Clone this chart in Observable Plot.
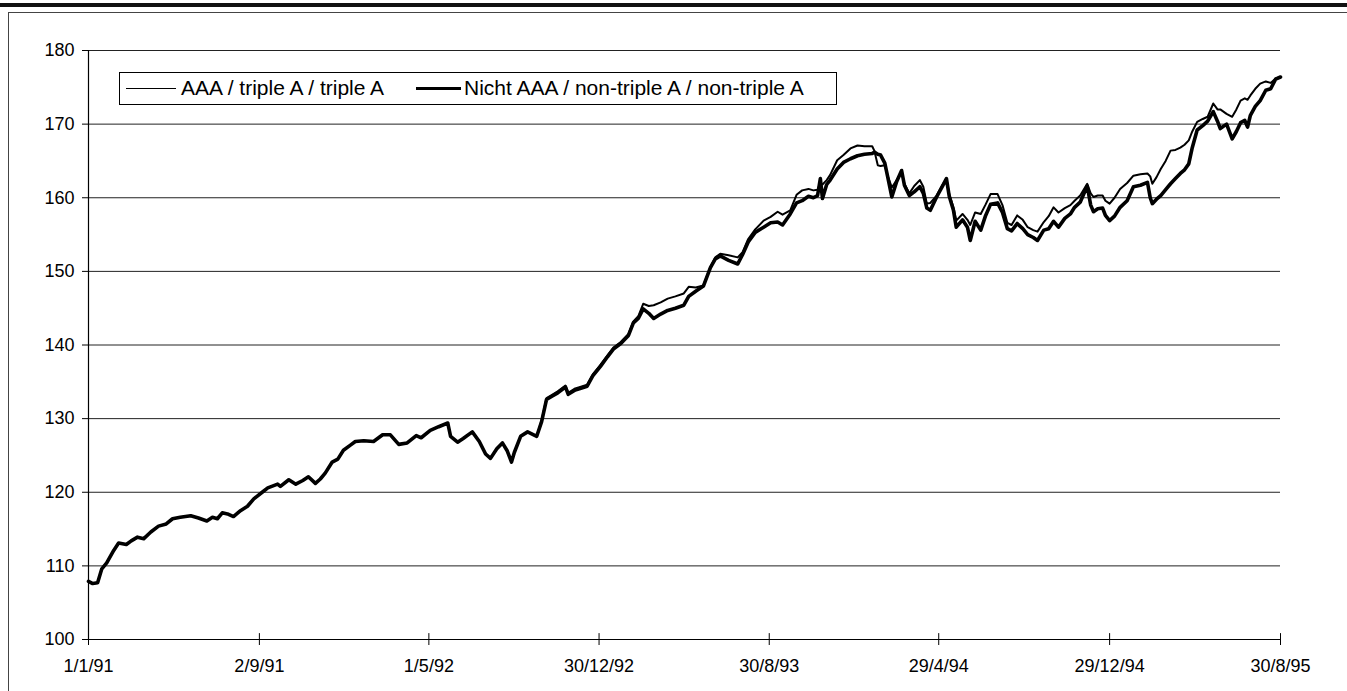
<!DOCTYPE html>
<html><head><meta charset="utf-8">
<script src="https://cdn.jsdelivr.net/npm/d3@7"></script>
<script src="https://cdn.jsdelivr.net/npm/@observablehq/plot@0.6"></script>
<style>
body{margin:0;background:#fff;}
#wrap{position:relative;width:1347px;height:691px;overflow:hidden;font-family:"Liberation Sans",Arial,sans-serif;}
#topbar{position:absolute;left:0;top:3px;width:1347px;height:4px;background:#111;}
#frame{position:absolute;left:8px;top:12px;width:1345px;height:700px;border-left:1px solid #444;border-top:1px solid #444;}
#legend{position:absolute;left:119px;top:72px;width:716px;height:31px;border:1.5px solid #000;background:#fff;font-size:21px;color:#000;white-space:nowrap;}
#legend span{position:absolute;}
.sw{top:15px;height:0;}
.lt{top:3px;line-height:24px;}
</style></head>
<body><div id="wrap"><div id="topbar"></div><div id="frame"></div><div id="chart"></div>
<div id="legend">
<span class="sw" style="left:6px;width:50px;border-top:1.5px solid #000"></span><span class="lt" id="l1" style="left:61px"></span>
<span class="sw" style="left:296px;width:45px;border-top:3px solid #000;top:14px"></span><span class="lt" id="l2" style="left:344px"></span>
</div>
</div>
<script>
const seriesNames = ["AAA / triple A / triple A", "Nicht AAA / non-triple A / non-triple A"];
const yTicks = [100,110,120,130,140,150,160,170,180];
const xTickDates = ["1991-01-01","1991-09-02","1992-05-01","1992-12-30","1993-08-30","1994-04-29","1994-12-29","1995-08-30"];
const xTickLabels = ["1/1/91","2/9/91","1/5/92","30/12/92","30/8/93","29/4/94","29/12/94","30/8/95"];

const dates = [
"1991-01-01","1991-01-07","1991-01-14","1991-01-20","1991-01-27","1991-02-06","1991-02-13","1991-02-24","1991-03-03","1991-03-12",
"1991-03-21","1991-03-31","1991-04-11","1991-04-22","1991-05-01","1991-05-12","1991-05-27","1991-06-07","1991-06-19","1991-06-27",
"1991-07-04","1991-07-11","1991-07-20","1991-07-27","1991-08-06","1991-08-16","1991-08-25","1991-09-06","1991-09-14","1991-09-28",
"1991-10-02","1991-10-14","1991-10-24","1991-11-03","1991-11-11","1991-11-21","1991-11-28","1991-12-05","1991-12-15","1991-12-23",
"1991-12-31","1992-01-10","1992-01-17","1992-01-29","1992-02-12","1992-02-25","1992-03-07","1992-03-19","1992-03-31","1992-04-13",
"1992-04-20","1992-05-03","1992-05-15","1992-05-28","1992-06-01","1992-06-11","1992-06-19","1992-07-02","1992-07-12","1992-07-21",
"1992-07-28","1992-08-06","1992-08-14","1992-08-21","1992-08-27","1992-08-31","1992-09-09","1992-09-19","1992-10-02","1992-10-09",
"1992-10-16","1992-10-25","1992-11-01","1992-11-12","1992-11-16","1992-11-26","1992-12-03","1992-12-13","1992-12-21","1993-01-01",
"1993-01-11","1993-01-20","1993-01-30","1993-02-10","1993-02-17","1993-02-24",
"1993-03-03","1993-03-11","1993-03-18","1993-03-28","1993-04-07","1993-04-18","1993-04-30","1993-05-07","1993-05-17","1993-05-28",
"1993-06-07","1993-06-14","1993-06-21","1993-07-03","1993-07-16","1993-07-23","1993-07-31","1993-08-10","1993-08-22","1993-09-01",
"1993-09-11","1993-09-18","1993-09-29","1993-10-08","1993-10-16","1993-10-25","1993-11-01","1993-11-07","1993-11-11","1993-11-14",
"1993-11-20","1993-11-25","1993-12-05","1993-12-14","1993-12-24","1994-01-03","1994-01-13","1994-01-24","1994-01-27","1994-02-01",
"1994-02-05","1994-02-11","1994-02-15","1994-02-21","1994-02-28","1994-03-07","1994-03-11","1994-03-18","1994-03-25","1994-04-02",
"1994-04-07","1994-04-12","1994-04-17","1994-04-26","1994-05-04","1994-05-10","1994-05-14","1994-05-20","1994-05-24","1994-06-02",
"1994-06-09","1994-06-13","1994-06-20","1994-06-28","1994-07-05","1994-07-12","1994-07-22","1994-07-29","1994-08-05","1994-08-11",
"1994-08-19","1994-08-27","1994-09-03","1994-09-11","1994-09-17","1994-09-26","1994-10-03","1994-10-10","1994-10-17","1994-10-26",
"1994-11-03","1994-11-09","1994-11-17","1994-11-27","1994-12-02","1994-12-06","1994-12-12","1994-12-19","1994-12-23","1994-12-29",
"1995-01-05","1995-01-13","1995-01-23","1995-02-01","1995-02-11","1995-02-21","1995-02-25","1995-02-28","1995-03-06","1995-03-12",
"1995-03-19","1995-03-26","1995-04-02","1995-04-09","1995-04-15","1995-04-21","1995-04-26","1995-05-03","1995-05-11","1995-05-18",
"1995-05-26","1995-06-01","1995-06-05","1995-06-14","1995-06-22","1995-06-28","1995-07-04","1995-07-10","1995-07-14","1995-07-18",
"1995-07-25","1995-08-01","1995-08-09","1995-08-16","1995-08-23","1995-08-30"
];

const aaa = [
107.9,107.6,107.7,109.6,110.4,112.1,113.1,112.9,113.4,113.9,
113.7,114.6,115.4,115.7,116.4,116.6,116.8,116.5,116.1,116.6,
116.4,117.2,117.0,116.7,117.5,118.1,119.1,120.0,120.6,121.1,
120.8,121.7,121.1,121.6,122.1,121.2,121.8,122.6,124.1,124.5,
125.7,126.4,126.9,127.0,126.9,127.8,127.8,126.5,126.7,127.7,
127.4,128.4,128.9,129.4,127.6,126.8,127.3,128.2,126.9,125.2,
124.6,125.9,126.7,125.6,124.1,125.4,127.6,128.2,127.6,129.8,
132.8,133.3,133.7,134.5,133.5,134.1,134.3,134.6,136.0,137.3,
138.6,139.7,140.4,141.5,143.2,143.9,
145.6,145.3,145.4,145.8,146.3,146.6,147.0,147.9,147.8,148.1,
150.6,151.9,152.4,152.2,151.9,152.6,154.4,155.7,156.9,157.4,
158.1,157.7,158.3,160.4,161.0,161.2,161.0,161.1,162.0,161.8,
162.4,163.1,165.1,165.8,166.7,167.1,167.0,167.0,166.4,164.4,
164.3,164.4,163.0,161.4,162.4,163.5,161.9,160.6,161.6,162.4,
161.5,159.2,159.3,160.3,161.7,162.6,160.5,158.7,156.9,157.8,
157.0,156.3,158.0,157.8,159.1,160.5,160.5,159.0,156.6,156.3,
157.6,157.0,156.0,155.6,155.4,156.7,157.5,158.7,158.0,158.6,
159.0,159.6,160.3,161.9,160.6,160.1,160.3,160.3,159.6,159.2,
160.0,161.2,162.0,163.0,163.2,163.3,162.9,161.9,162.8,163.9,
165.0,166.4,166.5,166.8,167.2,167.8,169.0,170.3,170.7,171.0,
172.8,172.0,172.0,171.4,171.0,172.0,173.2,173.5,173.3,173.9,
174.8,175.5,175.8,175.6,176.2,176.4
];

const nonAaa = [
107.9,107.6,107.7,109.6,110.4,112.1,113.1,112.9,113.4,113.9,
113.7,114.6,115.4,115.7,116.4,116.6,116.8,116.5,116.1,116.6,
116.4,117.2,117.0,116.7,117.5,118.1,119.1,120.0,120.6,121.1,
120.8,121.7,121.1,121.6,122.1,121.2,121.8,122.6,124.1,124.5,
125.7,126.4,126.9,127.0,126.9,127.8,127.8,126.5,126.7,127.7,
127.4,128.4,128.9,129.4,127.6,126.8,127.3,128.2,126.9,125.2,
124.6,125.9,126.7,125.6,124.1,125.4,127.6,128.2,127.6,129.6,
132.6,133.1,133.5,134.3,133.3,133.9,134.1,134.4,135.8,137.1,
138.4,139.5,140.2,141.3,143.0,143.6,
144.9,144.3,143.6,144.2,144.7,145.0,145.4,146.6,147.3,148.0,
150.5,151.7,152.1,151.5,151.0,152.3,154.0,155.3,156.0,156.6,
156.7,156.3,157.8,159.3,159.6,160.2,160.0,160.3,162.6,159.9,
161.8,162.4,163.9,164.8,165.3,165.7,165.9,166.0,166.2,165.9,
165.8,164.7,162.9,160.1,162.2,163.7,161.7,160.3,160.8,161.5,
160.6,158.6,158.3,160.1,161.5,162.6,160.2,158.3,156.0,157.0,
156.0,154.2,156.8,155.6,157.6,159.1,159.3,158.0,155.8,155.5,
156.5,155.8,155.0,154.6,154.2,155.6,155.8,156.8,156.0,157.2,
157.8,158.7,159.4,161.6,159.0,158.1,158.5,158.6,157.6,156.9,
157.5,158.7,159.6,161.5,161.7,162.1,160.0,159.2,159.8,160.3,
161.1,161.9,162.6,163.3,163.8,164.6,166.8,169.2,169.8,170.4,
171.7,170.4,169.4,170.0,168.0,169.0,170.2,170.5,169.6,171.2,
172.4,173.2,174.6,174.8,176.1,176.4
];

const parse = d3.utcParse("%Y-%m-%d");
const rows = [];
dates.forEach((d, i) => {
  rows.push({date: parse(d), value: aaa[i], series: seriesNames[0]});
});
dates.forEach((d, i) => {
  rows.push({date: parse(d), value: nonAaa[i], series: seriesNames[1]});
});
const xt = xTickDates.map(parse);
const labelMap = new Map(xt.map((d, i) => [+d, xTickLabels[i]]));

const chart = Plot.plot({
  width: 1347,
  height: 691,
  marginLeft: 88,
  marginRight: 67,
  marginTop: 50,
  marginBottom: 52,
  style: {fontFamily: '"Liberation Sans", Arial, sans-serif', fontSize: "18px", color: "#000", background: "transparent", overflow: "visible"},
  x: {type: "utc", domain: [xt[0], xt[xt.length - 1]]},
  y: {domain: [100, 180]},
  marks: [
    Plot.ruleY(yTicks.slice(1), {stroke: "#222", strokeWidth: 1}),
    Plot.ruleY([100], {stroke: "#000", strokeWidth: 1.2}),
    Plot.ruleX([xt[0]], {stroke: "#000", strokeWidth: 1.2}),
    Plot.ruleX(xt.slice(1), {y1: 100, y2: 100.8, stroke: "#000", strokeWidth: 1}),
    Plot.axisY({ticks: yTicks, tickSize: 6, tickPadding: 8, tickFormat: d => String(d), label: null, fontSize: 18}),
    Plot.axisX({ticks: xt, tickSize: 6, tickPadding: 14, tickFormat: d => labelMap.get(+d), label: null, fontSize: 18}),
    Plot.line(rows.filter(r => r.series === seriesNames[0]), {x: "date", y: "value", stroke: "#000", strokeWidth: 2, curve: "linear"}),
    Plot.line(rows.filter(r => r.series === seriesNames[1]), {x: "date", y: "value", stroke: "#000", strokeWidth: 3.6, curve: "linear"})
  ]
});
document.getElementById("chart").appendChild(chart);
document.getElementById("l1").textContent = seriesNames[0];
document.getElementById("l2").textContent = seriesNames[1];
</script>
</body></html>
